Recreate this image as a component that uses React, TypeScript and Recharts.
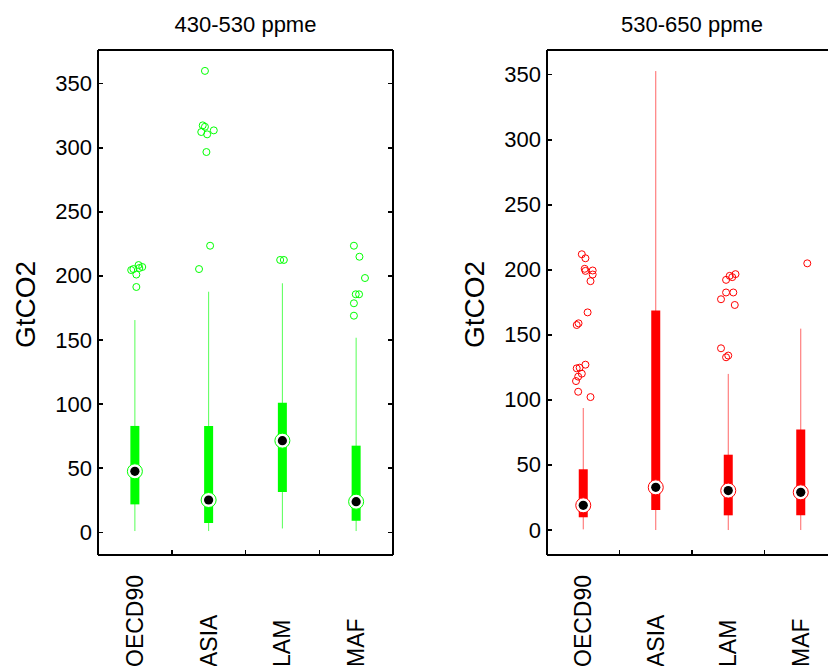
import { ComposedChart, ErrorBar, Scatter, XAxis, YAxis } from "recharts";

const categories = ["OECD90", "ASIA", "LAM", "MAF"];
const yTicks = [0, 50, 100, 150, 200, 250, 300, 350];
const bandEdges = [1, 2, 3];
const bandCenters = [0.5, 1.5, 2.5, 3.5];

// 430-530 ppme
const lowMin = [1, 1, 3, 1];
const lowQ1 = [21.8, 7.3, 31.4, 9];
const lowMedian = [47.6, 25.2, 71.5, 23.9];
const lowQ3 = [83, 83, 101, 67.6];
const lowMax = [165.6, 187.7, 194.3, 151.8];
// [value, horizontal jitter in category units]
const lowOutliers: [number, number][][] = [
  [[204.6, -0.05], [205.4, -0.02], [208.5, 0.05], [206.2, 0.06], [207, 0.1], [201.1, 0.02], [191.4, 0.02]],
  [[360, -0.05], [317.5, -0.08], [316.4, -0.05], [312.3, -0.1], [310.5, -0.02], [313.6, 0.07], [296.7, -0.03], [223.6, 0.02], [205.4, -0.13]],
  [[212.5, -0.03], [212.5, 0.02]],
  [[223.6, -0.03], [215, 0.045], [198.4, 0.12], [185.7, -0.005], [185.7, 0.04], [178.7, -0.03], [169, -0.03]],
];

// 530-650 ppme
const highMin = [0.5, 0, 0, 0];
const highQ1 = [9.8, 15.4, 11.3, 11.3];
const highMedian = [19, 32.8, 30.3, 29];
const highQ3 = [46.7, 168.7, 57.9, 77.2];
const highMax = [93.8, 352.8, 120, 154.8];
const highOutliers: [number, number][][] = [
  [[212, -0.02], [208.9, 0.03], [200.8, 0.02], [199.2, 0.03], [199.5, 0.13], [196.4, 0.13], [191.3, 0.1], [167.3, 0.06], [157.6, -0.09], [158.9, -0.065], [124.3, -0.09], [124.8, -0.05], [127.1, 0.03], [120.2, -0.02], [117.9, -0.07], [114.5, -0.1], [106.3, -0.07], [102.2, 0.1]],
  [],
  [[139.7, -0.1], [132.8, -0.03], [134.1, 0], [177.4, -0.1], [182.6, -0.03], [182.6, 0.07], [173, 0.09], [192.3, -0.03], [195.4, 0.02], [194.4, 0.055], [196.7, 0.1]],
  [[205, 0.09]],
];

const FONT = "'Liberation Sans', Arial, Helvetica, sans-serif";
const frameLine = { stroke: "#000", strokeWidth: 1.2, shapeRendering: "crispEdges" };

function boxRows(min: number[], q1: number[], med: number[], q3: number[], max: number[]) {
  return categories.map((_, i) => ({
    x: bandCenters[i],
    y: med[i],
    whisker: [med[i] - min[i], max[i] - med[i]],
    box: [med[i] - q1[i], q3[i] - med[i]],
  }));
}

function outlierRows(list: [number, number][][]) {
  return list.flatMap((pts, i) => pts.map(([v, dx]) => ({ x: bandCenters[i] + dx, y: v })));
}

function LeftTick({ x, y, payload }: any) {
  return (
    <g>
      <line x1={x} x2={x + 5} y1={y} y2={y} stroke="#000" strokeWidth={1.5} shapeRendering="crispEdges" />
      <text x={x - 6} y={y} textAnchor="end" dominantBaseline="central" fontSize={22} fontFamily={FONT} fill="#000">
        {payload.value}
      </text>
    </g>
  );
}

function RightTick({ x, y }: any) {
  return <line x1={x - 5} x2={x} y1={y} y2={y} stroke="#000" strokeWidth={1.5} shapeRendering="crispEdges" />;
}

function TopTick({ x, y }: any) {
  return <line x1={x} x2={x} y1={y} y2={y + 5} stroke="#000" strokeWidth={1.5} shapeRendering="crispEdges" />;
}

function BottomTick({ x, y, payload }: any) {
  const v = payload.value;
  if (Number.isInteger(v)) {
    return <line x1={x} x2={x} y1={y - 5} y2={y} stroke="#000" strokeWidth={1.5} shapeRendering="crispEdges" />;
  }
  const tx = x + 8;
  const ty = y + 112;
  return (
    <text x={tx} y={ty} transform={`rotate(-90, ${tx}, ${ty})`} textAnchor="start" fontSize={23} fontFamily={FONT} fill="#000">
      {categories[Math.floor(v)]}
    </text>
  );
}

function MedianDot({ cx, cy, stroke }: any) {
  return (
    <g>
      <circle cx={cx} cy={cy} r={7.5} fill="#fff" stroke={stroke} strokeWidth={1} />
      <circle cx={cx} cy={cy} r={4.6} fill="#000" />
    </g>
  );
}

function OutlierDot({ cx, cy, stroke }: any) {
  return <circle cx={cx} cy={cy} r={3.5} fill="none" stroke={stroke} strokeWidth={1} />;
}

type PanelProps = {
  title: string;
  left: number;
  width: number;
  marginLeft: number;
  domain: [number, number];
  color: string;
  whiskerColor: string;
  boxes: ReturnType<typeof boxRows>;
  outliers: { x: number; y: number }[];
};

function BoxPanel({ title, left, width, marginLeft, domain, color, whiskerColor, boxes, outliers }: PanelProps) {
  return (
    <div style={{ position: "absolute", left, top: 0 }}>
      <ComposedChart width={width} height={666} margin={{ top: 49, right: 0, bottom: 110, left: marginLeft }}>
        <XAxis
          type="number"
          dataKey="x"
          domain={[0, 4]}
          allowDataOverflow
          ticks={[0.5, 1, 1.5, 2, 2.5, 3, 3.5]}
          interval={0}
          height={1}
          tickSize={0}
          tickMargin={0}
          tickLine={false}
          stroke="#000"
          axisLine={frameLine}
          tick={<BottomTick />}
        />
        <XAxis
          xAxisId="top"
          orientation="top"
          type="number"
          domain={[0, 4]}
          allowDataOverflow
          ticks={bandEdges}
          interval={0}
          height={1}
          tickSize={0}
          tickMargin={0}
          tickLine={false}
          stroke="#000"
          axisLine={frameLine}
          tick={<TopTick />}
          label={(p: any) => {
            const vb = p.viewBox;
            return (
              <text x={vb.x + vb.width / 2} y={vb.y + vb.height - 18} textAnchor="middle" fontSize={22} fontFamily={FONT} fill="#000">
                {title}
              </text>
            );
          }}
        />
        <YAxis
          type="number"
          dataKey="y"
          domain={domain}
          allowDataOverflow
          ticks={yTicks}
          interval={0}
          width={60}
          tickSize={0}
          tickMargin={0}
          tickLine={false}
          stroke="#000"
          axisLine={frameLine}
          tick={<LeftTick />}
          label={(p: any) => {
            const vb = p.viewBox;
            const lx = vb.x - 3.5;
            const ly = vb.y + vb.height / 2 + 2;
            return (
              <text x={lx} y={ly} transform={`rotate(-90, ${lx}, ${ly})`} textAnchor="middle" fontSize={28} fontFamily={FONT} fill="#000">
                GtCO2
              </text>
            );
          }}
        />
        <YAxis
          yAxisId="right"
          orientation="right"
          type="number"
          domain={domain}
          allowDataOverflow
          ticks={yTicks}
          interval={0}
          width={21}
          tickSize={0}
          tickMargin={0}
          tickLine={false}
          stroke="#000"
          axisLine={frameLine}
          tick={<RightTick />}
        />
        <Scatter data={boxes} isAnimationActive={false} shape={() => <g />}>
          <ErrorBar dataKey="whisker" direction="y" width={0} stroke={whiskerColor} strokeWidth={1} />
          <ErrorBar dataKey="box" direction="y" width={0} stroke={color} strokeWidth={9} />
        </Scatter>
        <Scatter data={outliers} isAnimationActive={false} shape={<OutlierDot stroke={color} />} />
        <Scatter data={boxes} isAnimationActive={false} shape={<MedianDot stroke={color} />} />
      </ComposedChart>
    </div>
  );
}

export default function App() {
  return (
    <div style={{ position: "fixed", left: 0, top: 0, width: 828, height: 666, overflow: "hidden", background: "#fff" }}>
      <BoxPanel
        title="430-530 ppme"
        left={0}
        width={414}
        marginLeft={38}
        domain={[-17.7, 376.3]}
        color="#00ff00"
        whiskerColor="#55ff55"
        boxes={boxRows(lowMin, lowQ1, lowMedian, lowQ3, lowMax)}
        outliers={outlierRows(lowOutliers)}
      />
      <BoxPanel
        title="530-650 ppme"
        left={414}
        width={444}
        marginLeft={73}
        domain={[-19.2, 369]}
        color="#ff0000"
        whiskerColor="#ff6666"
        boxes={boxRows(highMin, highQ1, highMedian, highQ3, highMax)}
        outliers={outlierRows(highOutliers)}
      />
    </div>
  );
}
